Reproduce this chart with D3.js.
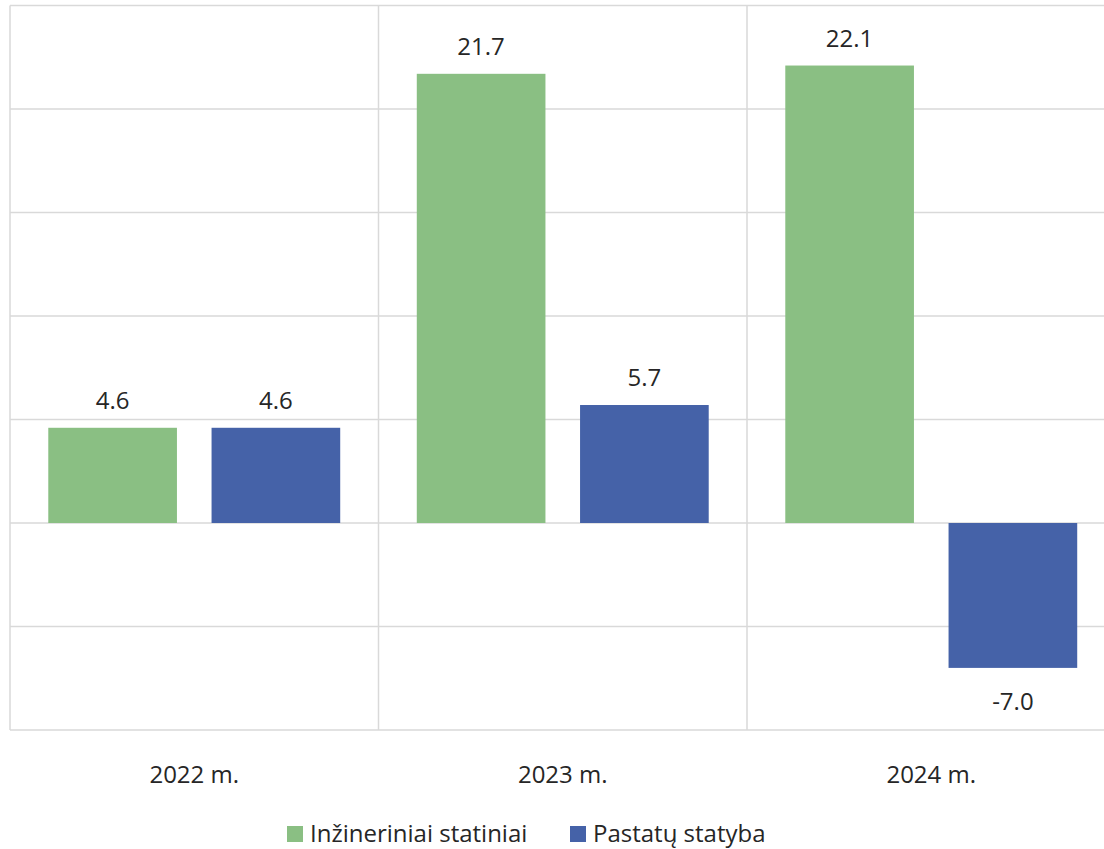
<!DOCTYPE html>
<html><head><meta charset="utf-8">
<script src="https://cdn.jsdelivr.net/npm/d3@7"></script>
<style>body{margin:0;background:#fff}svg{display:block}text{font-family:"Open Sans",sans-serif;fill:#262626}</style>
</head><body>
<script>
const categories = ["2022 m.", "2023 m.", "2024 m."];
const seriesNames = ["Inžineriniai statiniai", "Pastatų statyba"];
const inzinerinia = [4.6, 21.7, 22.1];
const pastatu = [4.6, 5.7, -7.0];
const yTicks = [-10, -5, 0, 5, 10, 15, 20, 25];
const colors = ["#8abf83", "#4562a8"];

const W = 1104, H = 849;
const svg = d3.select("body").append("svg").attr("width", W).attr("height", H);

const x0 = d3.scaleBand().domain(categories).range([10, 1115.5]).paddingInner(0).paddingOuter(0);
const x1 = d3.scaleBand().domain(seriesNames).range([0, x0.bandwidth()]).paddingInner(0.212).paddingOuter(0.2345);
const y = d3.scaleLinear().domain([-10, 25]).range([730, 5.5]);

const grid = svg.append("g");
grid.selectAll("line.h").data(yTicks).join("line")
  .attr("x1", x0.range()[0]).attr("x2", x0.range()[1])
  .attr("y1", d => y(d)).attr("y2", d => y(d))
  .attr("stroke", "#d9d9d9").attr("stroke-width", 1.5);
const bounds = categories.map(c => x0(c)).concat([x0.range()[1]]);
grid.selectAll("line.v").data(bounds).join("line")
  .attr("x1", d => d).attr("x2", d => d)
  .attr("y1", y(25)).attr("y2", y(-10))
  .attr("stroke", "#d9d9d9").attr("stroke-width", 1.5);

const data = categories.map((c, i) => ({cat: c, vals: [inzinerinia[i], pastatu[i]]}));
const groups = svg.append("g").selectAll("g").data(data).join("g")
  .attr("transform", d => `translate(${x0(d.cat)},0)`);
const bars = groups.selectAll("g").data(d => d.vals.map((v, j) => ({s: seriesNames[j], v, j}))).join("g");
bars.append("rect")
  .attr("x", d => x1(d.s)).attr("width", x1.bandwidth())
  .attr("y", d => y(Math.max(0, d.v))).attr("height", d => Math.abs(y(d.v) - y(0)))
  .attr("fill", d => colors[d.j]);
bars.append("text")
  .attr("x", d => x1(d.s) + x1.bandwidth() / 2)
  .attr("y", d => d.v >= 0 ? y(d.v) - 19 : y(d.v) + 42)
  .attr("text-anchor", "middle").attr("font-size", 24)
  .text(d => d.v.toFixed(1));

svg.append("g").selectAll("text").data(categories).join("text")
  .attr("x", d => x0(d) + x0.bandwidth() / 2).attr("y", 783)
  .attr("text-anchor", "middle").attr("font-size", 24).text(d => d);

const leg = svg.append("g");
const legX = [287, 570];
seriesNames.forEach((s, i) => {
  leg.append("rect").attr("x", legX[i]).attr("y", 826).attr("width", 16).attr("height", 16).attr("fill", colors[i]);
  leg.append("text").attr("x", legX[i] + 23).attr("y", 842).attr("font-size", 24).text(s);
});
</script>
</body></html>
